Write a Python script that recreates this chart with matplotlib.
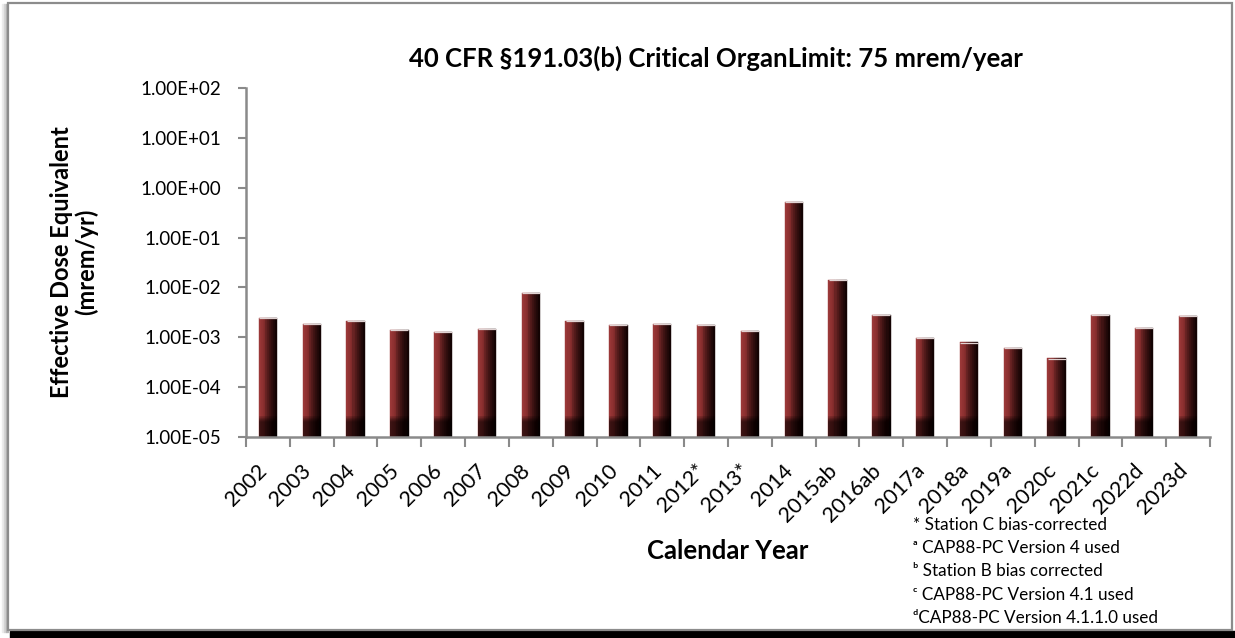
"""
Effective dose equivalent by calendar year (log-scale bar chart).
Saves out.png.
"""

import matplotlib
matplotlib.use('Agg')
import matplotlib.pyplot as plt
import matplotlib.patches as mpatches
import matplotlib.transforms as mtransforms
from matplotlib.colors import to_rgb
import numpy as np

plt.rcParams['font.family'] = ['Lato', 'DejaVu Sans']
plt.rcParams['figure.facecolor'] = 'white'

# ------------------------------------------------------------
# Data
# ------------------------------------------------------------
years = ['2002', '2003', '2004', '2005', '2006', '2007', '2008', '2009',
         '2010', '2011', '2012*', '2013*', '2014', '2015ab', '2016ab',
         '2017a', '2018a', '2019a', '2020c', '2021c', '2022d', '2023d']
dose = [2.45e-3, 1.81e-3, 2.10e-3, 1.39e-3, 1.27e-3, 1.48e-3, 7.9e-3, 2.10e-3,
        1.73e-3, 1.83e-3, 1.73e-3, 1.33e-3, 5.1e-1, 1.44e-2, 2.77e-3,
        9.8e-4, 7.8e-4, 6.0e-4, 3.7e-4, 2.77e-3, 1.55e-3, 2.65e-3]
y_ticks = [1e-5, 1e-4, 1e-3, 1e-2, 1e-1, 1e0, 1e1, 1e2]
notes = ['* Station C bias-corrected',
         '\u1d43 CAP88-PC Version 4 used',
         '\u1d47 Station B bias corrected',
         '\u1d9c CAP88-PC Version 4.1 used',
         '\u1d48CAP88-PC Version 4.1.1.0 used']

W, H = 1235, 638
fig = plt.figure(figsize=(W / 100, H / 100), dpi=100)

# outer chart frame with drop shadow (kept behind the axes)
fig.patches.append(mpatches.Rectangle((10 / W, 0), (W - 10) / W, 7 / H,
                                      transform=fig.transFigure, color='black', zorder=-3))
for i, c in enumerate(['#ececec', '#d4d4d4', '#b4b4b4']):
    fig.patches.append(mpatches.Rectangle(((2 + 2 * i) / W, 6 / H), 2 / W, (H - 10) / H,
                                          transform=fig.transFigure, color=c, zorder=-3))
fig.patches.append(mpatches.Rectangle((8 / W, 8 / H), (1232 - 8) / W, (630 - 3) / H,
                                      transform=fig.transFigure, facecolor='white',
                                      edgecolor='#8c8c8c', linewidth=1.6, zorder=-2))

ax = fig.add_axes([246 / W, 1 - 437 / H, (1210 - 246) / W, (437 - 88) / H])
ax.set_facecolor('none')
ax.set_yscale('log')
ax.set_ylim(1e-5, 1e2)
ax.set_xlim(-0.5, len(years) - 0.5)

# bars: horizontal shading red -> near black, built from thin slices
x = np.arange(len(years))
bw = 0.42
n_slices = 9
c_left = np.array(to_rgb('#9e3b3b'))
c_mid = np.array(to_rgb('#862d2d'))
c_right = np.array(to_rgb('#0d0101'))
for j in range(n_slices):
    t = (j + 0.5) / n_slices
    if t < 0.3:
        col = c_left + (c_mid - c_left) * (t / 0.3)
    else:
        col = c_mid + (c_right - c_mid) * ((t - 0.3) / 0.7) ** 0.7
    ax.bar(x - bw / 2 + j * bw / n_slices, dose, width=bw / n_slices,
           bottom=1e-5, align='edge', color=tuple(col), edgecolor=tuple(col),
           linewidth=0.3, zorder=2)

# darker fade at the foot of every bar
n_fade = 12
for k in range(n_fade):
    top = 1e-5 * 10 ** (0.018 * (n_fade - k))
    ax.bar(x, [min(top, d) for d in dose], width=bw, bottom=1e-5,
           color='black', alpha=0.07, linewidth=0, zorder=3)

# thin light cap on top of each bar
ax.scatter(x, dose, marker='_', s=13 ** 2, color='#e0d2d2', linewidths=0.9, zorder=4)

# axes styling
for side in ['top', 'right']:
    ax.spines[side].set_visible(False)
for side in ['left', 'bottom']:
    ax.spines[side].set_color('#8a8a8a')
    ax.spines[side].set_linewidth(1.8)
    ax.spines[side].set_zorder(5)

ax.set_yticks(y_ticks)
ax.set_yticklabels([f'{v:.2E}' for v in y_ticks])
ax.yaxis.set_minor_locator(matplotlib.ticker.NullLocator())
ax.tick_params(axis='y', which='major', direction='out', length=6, width=1.5,
               color='#8a8a8a', pad=12, labelsize=13.5)

ax.set_xticks(np.arange(-0.5, len(years), 1.0))
ax.set_xticklabels([''] * (len(years) + 1))
ax.tick_params(axis='x', which='major', direction='out', length=7, width=1.5, color='#8a8a8a')
ax.set_xticks(x, minor=True)
ax.set_xticklabels(years, minor=True, rotation=45, ha='right', va='center',
                   rotation_mode='anchor', fontsize=15.5)
ax.tick_params(axis='x', which='minor', length=0, pad=22)
shift = mtransforms.ScaledTranslation(-4 / 100, 0, fig.dpi_scale_trans)
for lab in ax.get_xticklabels(minor=True):
    lab.set_transform(lab.get_transform() + shift)

# texts
fig.text(716 / W, 1 - 58 / H, '40 CFR \u00a7191.03(b) Critical OrganLimit: 75 mrem/year',
         ha='center', va='center', fontsize=18.5, fontweight='bold')
fig.text(74 / W, 1 - 262 / H, 'Effective Dose Equivalent\n(mrem/yr)', rotation=90,
         ha='center', va='center', multialignment='center', fontsize=17,
         fontweight='bold', linespacing=1.1)
fig.text(728 / W, 1 - 551 / H, 'Calendar Year', ha='center', va='center',
         fontsize=18.5, fontweight='bold')
for i, line in enumerate(notes):
    fig.text(913 / W, 1 - (525 + 23.2 * i) / H, line, ha='left', va='center', fontsize=12.3)

plt.savefig('out.png', dpi=100)
plt.close()
